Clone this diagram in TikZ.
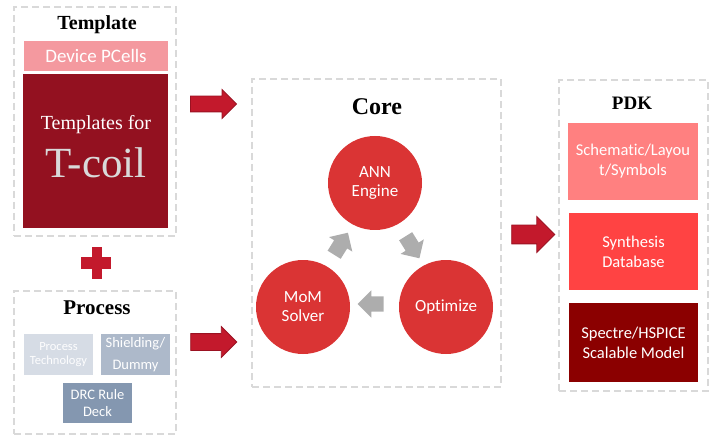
\documentclass[tikz,border=0pt]{standalone}
\usepackage{fontspec}
\setmainfont{Liberation Serif}
\setsansfont{Carlito}[Ligatures=NoCommon]
\usetikzlibrary{shapes.arrows,calc}
\definecolor{frameGray}{HTML}{D9D9D9}
\definecolor{tplRed}{HTML}{931120}
\definecolor{pcellPink}{HTML}{F4999F}
\definecolor{bigArrow}{HTML}{C3192C}
\definecolor{bigArrowEdge}{HTML}{9B1222}
\definecolor{coreRed}{HTML}{DA3434}
\definecolor{loopGray}{HTML}{ADADAD}
\definecolor{procA}{HTML}{D6DCE5}
\definecolor{procB}{HTML}{ADB9CA}
\definecolor{procC}{HTML}{8497B0}
\definecolor{pdkA}{HTML}{FF8080}
\definecolor{pdkB}{HTML}{FF4343}
\definecolor{pdkC}{HTML}{8B0000}

\begin{document}
\begin{tikzpicture}[x=1pt,y=-1pt,
	frame/.style ={draw=frameGray, line width=2.5pt, dash pattern=on 7pt off 4pt, minimum width=#1},
	title/.style ={font=\fontsize{#1}{#1}\selectfont\bfseries},
	cell/.style ={fill=#1, text=white, align=center, inner sep=0pt, font=\sffamily\fontsize{16.5}{20}\selectfont},
	engine/.style ={circle, fill=coreRed, text=white, align=center, minimum size=94pt, inner sep=0pt, font=\sffamily\fontsize{17}{19}\selectfont},
	feed/.style ={single arrow, fill=bigArrow, draw=bigArrowEdge, line width=0.8pt, minimum height=46pt, inner sep=7.5pt, single arrow head extend=6.5pt},
	loop/.style ={single arrow, fill=loopGray, minimum height=26pt, inner sep=7.5pt, single arrow head extend=6pt}]
		\useasboundingbox (0,0) rectangle (721,441);
		% Template
		\node[frame=162pt, minimum height=229pt] (tplbox) at (95,121.5) {};
		\node[title=20] (tpltitle) at (97,25) {Template};
		\node[cell=pcellPink, minimum width=144pt, minimum height=30pt, font=\sffamily\fontsize{19}{22}\selectfont] (pcells) at (96,56) {Device PCells};
		\node[cell=tplRed, minimum width=145pt, minimum height=154pt] (tcoil) at (95.5,151) {};
		\node[text=white, font=\fontsize{20}{24}\selectfont] (tplfor) at (96,125) {Templates for};
		\node[text=frameGray, font=\fontsize{43}{48}\selectfont] (tcoiltext) at (96,163) {T-coil};
		% plus
		\fill[bigArrow] (92,247) rectangle (102,279);
		\fill[bigArrow] (81,257) rectangle (111,269);
		% Process
		\node[frame=162pt, minimum height=143pt] (procbox) at (95,362.5) {};
		\node[title=21] (proctitle) at (97,308) {Process};
		\node[cell=procA, text=white!95!procA, minimum width=69pt, minimum height=41pt, font=\sffamily\fontsize{12.5}{14}\selectfont] (tech) at (58.5,354.5) {Process\\Technology};
		\node[cell=procB, minimum width=69pt, minimum height=41pt, font=\sffamily\fontsize{14.5}{22}\selectfont] (shield) at (135.5,354.5) {Shielding/\\Dummy};
		\node[cell=procC, minimum width=69pt, minimum height=40pt, font=\sffamily\fontsize{14.5}{17}\selectfont] (drc) at (97.5,403) {DRC Rule\\Deck};
		% Core
		\node[frame=249pt, minimum height=308pt] (corebox) at (376.5,233) {};
		\node[title=24] (coretitle) at (377,107) {Core};
		\node[engine] (ann) at (375,183) {ANN\\Engine};
		\node[engine] (mom) at (303,307) {MoM\\Solver};
		\node[engine] (opt) at (446,307) {Optimize};
		\node[loop, rotate=58] (l1) at ($(mom)!0.5!(ann)+(0,2)$) {};
		\node[loop, rotate=-58] (l2) at ($(ann)!0.5!(opt)+(0,-1)$) {};
		\node[loop, rotate=180] (l3) at ($(opt)!0.5!(mom)+(0,-3)$) {};
		% PDK
		\node[frame=149pt, minimum height=311pt] (pdkbox) at (633.5,235.5) {};
		\node[title=19] (pdktitle) at (632,103) {PDK};
		\node[cell=pdkA, minimum width=130pt, minimum height=77pt] (schem) at (633,161.5) {Schematic/Layou\\t/Symbols};
		\node[cell=pdkB, minimum width=129pt, minimum height=77pt] (synth) at (633.5,251.5) {Synthesis\\Database};
		\node[cell=pdkC, minimum width=129pt, minimum height=79pt] (spectre) at (633.5,342.5) {Spectre/HSPICE\\Scalable Model};
		% feeds
		\node[feed] (f1) at (209.5,104) {};
		\node[feed, inner sep=8pt, single arrow head extend=7pt] (f2) at (209.5,342) {};
		\node[feed, minimum height=43pt, inner sep=9pt, single arrow head extend=8.5pt] (f3) at (528.5,234.5) {};
	\end{tikzpicture}
\end{document}
